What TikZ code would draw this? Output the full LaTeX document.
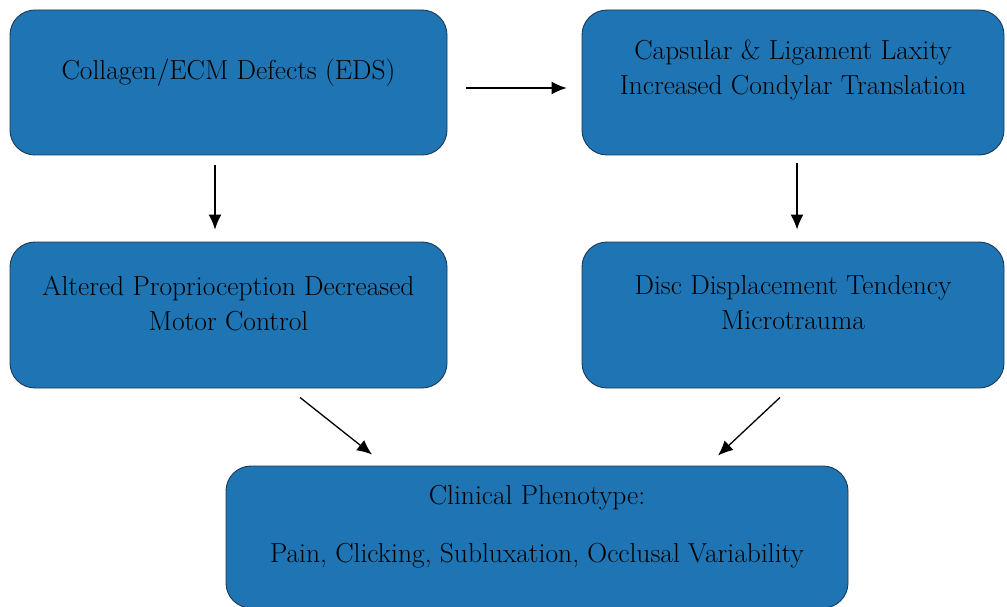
\documentclass[tikz,border=0pt]{standalone}
\usetikzlibrary{arrows.meta}
\begin{document}
\begin{tikzpicture}[x=1pt,y=-1pt]
	\tikzstyle{flowbox} = [draw, shape=rectangle, rounded corners=25pt, line width=0.9pt, draw=boxedge, fill=boxblue]
	\tikzstyle{flowtext} = [align=center, font=\fontsize{27.5}{35}\selectfont, text=black]
	\tikzstyle{flowedge} = [-{Latex[length=15pt,width=13pt]}, line width=1.3pt]

	\definecolor{boxblue}{RGB}{31,116,179}
	\definecolor{boxedge}{RGB}{28,56,84}

	\useasboundingbox (0,0) rectangle (1007,607);

	% BOXES %
	\node[flowbox, minimum width=437pt, minimum height=145pt] (collagen) at (228.5,82.5) {};
	\node[flowbox, minimum width=422pt, minimum height=145pt] (capsular) at (793,82.5) {};
	\node[flowbox, minimum width=437pt, minimum height=146pt] (proprio) at (228.5,315) {};
	\node[flowbox, minimum width=422pt, minimum height=146pt] (disc) at (793,315) {};
	\node[flowbox, minimum width=622pt, minimum height=142pt] (pheno) at (537,537) {};

	% TEXTS %
	\node[flowtext] (collagen-txt) at ([yshift=10pt]collagen.center) {Collagen/ECM Defects (EDS)};
	\node[flowtext] (capsular-txt) at ([yshift=12pt]capsular.center) {Capsular \& Ligament Laxity\\Increased Condylar Translation};
	\node[flowtext] (proprio-txt) at ([yshift=12pt]proprio.center) {Altered Proprioception Decreased\\Motor Control};
	\node[flowtext] (disc-txt) at ([yshift=12pt]disc.center) {Disc Displacement Tendency\\Microtrauma};
	\node[flowtext] (pheno-txt) at ([yshift=10pt]pheno.center) {Clinical Phenotype:\\[23pt]Pain, Clicking, Subluxation, Occlusal Variability};

	% EDGES %
	\draw[flowedge] ([xshift=19pt,yshift=-5.5pt]collagen.east) -- ([xshift=-15pt,yshift=-5.5pt]capsular.west);
	\draw[flowedge] ([xshift=-13.5pt,yshift=-10pt]collagen.south) -- ([xshift=-13.5pt,yshift=12pt]proprio.north);
	\draw[flowedge] ([xshift=4pt,yshift=-8pt]capsular.south) -- ([xshift=4pt,yshift=12pt]disc.north);
	\draw[flowedge] ([xshift=71.5pt,yshift=-9pt]proprio.south) -- ([xshift=-165pt,yshift=11pt]pheno.north);
	\draw[flowedge] ([xshift=-13pt,yshift=-9pt]disc.south) -- ([xshift=181pt,yshift=10pt]pheno.north);
\end{tikzpicture}
\end{document}
